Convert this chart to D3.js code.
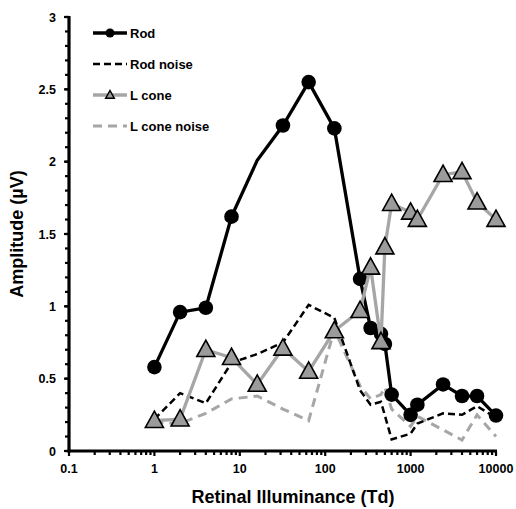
<!DOCTYPE html>
<html><head><meta charset="utf-8">
<script src="https://cdn.jsdelivr.net/npm/d3@7"></script>
<style>body{margin:0;background:#fff}svg{display:block}text{font-family:"Liberation Sans",Arial,sans-serif;font-weight:bold}</style>
</head><body>
<svg id="c" width="516" height="509"></svg>
<script>
// Data
const rodX = [1,2,4,8,16,32,64,128,256,340,450,500,600,1000,1200,2400,4000,6000,10000];
const rodY = [0.58,0.96,0.99,1.62,2.01,2.25,2.55,2.23,1.19,0.85,0.81,0.74,0.39,0.25,0.32,0.46,0.38,0.38,0.245];
const rodMarker = [1,1,1,1,0,1,1,1,1,1,1,1,1,1,1,1,1,1,1];
const rodNoiseX = [1,2,4,8,16,32,64,128,256,340,450,600,1000,1200,2400,4000,6000,10000];
const rodNoiseY = [0.22,0.40,0.33,0.61,0.67,0.75,1.01,0.92,0.42,0.32,0.34,0.08,0.12,0.19,0.26,0.25,0.31,0.23];
const lconeX = [1,2,4,8,16,32,64,128,256,340,450,500,600,1000,1200,2400,4000,6000,10000];
const lconeY = [0.21,0.22,0.70,0.645,0.46,0.71,0.55,0.83,0.97,1.27,0.755,1.41,1.71,1.65,1.60,1.91,1.93,1.72,1.60];
const lconeNoiseX = [1,2,4,8,16,32,64,128,256,340,450,500,600,1000,1200,4000,6000,10000];
const lconeNoiseY = [0.20,0.19,0.26,0.36,0.38,0.29,0.21,0.84,0.45,0.36,0.39,0.44,0.29,0.17,0.24,0.076,0.25,0.10];
const xTicks = [0.1,1,10,100,1000,10000];
const xTickLabels = ["0.1","1","10","100","1000","10000"];
const yTicks = [0,0.5,1,1.5,2,2.5,3];
const yTickLabels = ["0","0.5","1","1.5","2","2.5","3"];
const legendLabels = ["Rod","Rod noise","L cone","L cone noise"];

const svg = d3.select("#c");
const x = d3.scaleLog().domain([0.1,10000]).range([69,496]);
const y = d3.scaleLinear().domain([0,3]).range([451,17]);
const GRAY = "#a6a6a6", TRI = "#9b9b9b";

// minor ticks
const xMinor = [];
for (let d = 0.1; d < 10000; d *= 10) for (let k = 2; k <= 9; k++) xMinor.push(d*k);
const yMinor = d3.range(0, 3.0001, 0.1).map(v => +v.toFixed(1));

const xAxis = svg.append("g").attr("transform","translate(0,451)");
xAxis.selectAll("line.mi").data(xMinor).join("line").attr("x1",d=>x(d)).attr("x2",d=>x(d)).attr("y1",0).attr("y2",4).attr("stroke","#000").attr("stroke-width",2.2);
xAxis.selectAll("line.ma").data(xTicks).join("line").attr("x1",d=>x(d)).attr("x2",d=>x(d)).attr("y1",0).attr("y2",5).attr("stroke","#000").attr("stroke-width",2.2);
xAxis.append("line").attr("x1",x(0.1)-1.5).attr("x2",x(10000)+1).attr("y1",0).attr("y2",0).attr("stroke","#000").attr("stroke-width",3.2);
xAxis.selectAll("text").data(xTicks).join("text").attr("x",d=>x(d)).attr("y",22).attr("text-anchor","middle").attr("font-size",12.5).text((d,i)=>xTickLabels[i]);

const yAxis = svg.append("g").attr("transform","translate(69,0)");
yAxis.selectAll("line.mi").data(yMinor).join("line").attr("x1",-4).attr("x2",0).attr("y1",d=>y(d)).attr("y2",d=>y(d)).attr("stroke","#000").attr("stroke-width",2.2);
yAxis.selectAll("line.ma").data(yTicks).join("line").attr("x1",-5).attr("x2",0).attr("y1",d=>y(d)).attr("y2",d=>y(d)).attr("stroke","#000").attr("stroke-width",2.2);
yAxis.append("line").attr("x1",0).attr("x2",0).attr("y1",y(3)-1).attr("y2",y(0)+1.5).attr("stroke","#000").attr("stroke-width",3.2);
yAxis.selectAll("text").data(yTicks).join("text").attr("x",-13).attr("y",d=>y(d)+4.5).attr("text-anchor","end").attr("font-size",12.5).text((d,i)=>yTickLabels[i]);

svg.append("text").attr("x",293).attr("y",503).attr("text-anchor","middle").attr("font-size",18).text("Retinal Illuminance (Td)");
svg.append("text").attr("transform","translate(23,234) rotate(-90)").attr("text-anchor","middle").attr("font-size",18).text("Amplitude (µV)");

const line = (xs, ys) => d3.line()(xs.map((v,i)=>[x(v), y(ys[i])]));

// noise lines
svg.append("path").attr("d",line(lconeNoiseX,lconeNoiseY)).attr("fill","none").attr("stroke",GRAY).attr("stroke-width",3).attr("stroke-dasharray","9,6");
svg.append("path").attr("d",line(rodNoiseX,rodNoiseY)).attr("fill","none").attr("stroke","#000").attr("stroke-width",2.5).attr("stroke-dasharray","7,4");

// rod
svg.append("path").attr("d",line(rodX,rodY)).attr("fill","none").attr("stroke","#000").attr("stroke-width",3.3);
svg.selectAll("circle.rod").data(rodX.map((v,i)=>({v,w:rodY[i],m:rodMarker[i]})).filter(d=>d.m)).join("circle")
  .attr("cx",d=>x(d.v)).attr("cy",d=>y(d.w)).attr("r",7.3).attr("fill","#000");

// L cone
const tri = (s) => `M0,${-s}L${s*0.95},${s*0.72}L${-s*0.95},${s*0.72}Z`;
svg.append("path").attr("d",line(lconeX,lconeY)).attr("fill","none").attr("stroke",GRAY).attr("stroke-width",3.3);
svg.selectAll("path.tri").data(lconeX.map((v,i)=>({v,w:lconeY[i]}))).join("path")
  .attr("transform",d=>`translate(${x(d.v)},${y(d.w)})`).attr("d",tri(9.5)).attr("fill",TRI).attr("stroke","#000").attr("stroke-width",1.6);

// legend
const lg = svg.append("g");
const rows = [33,64,95,126];
lg.append("line").attr("x1",93).attr("x2",127).attr("y1",rows[0]).attr("y2",rows[0]).attr("stroke","#000").attr("stroke-width",3.3);
lg.append("circle").attr("cx",110).attr("cy",rows[0]).attr("r",4.5).attr("fill","#000");
lg.append("line").attr("x1",93).attr("x2",127).attr("y1",rows[1]).attr("y2",rows[1]).attr("stroke","#000").attr("stroke-width",2.5).attr("stroke-dasharray","7,4");
lg.append("line").attr("x1",93).attr("x2",127).attr("y1",rows[2]).attr("y2",rows[2]).attr("stroke",GRAY).attr("stroke-width",3.3);
lg.append("path").attr("transform",`translate(110,${rows[2]})`).attr("d",tri(4.5)).attr("fill",TRI).attr("stroke","#000").attr("stroke-width",1.5);
lg.append("line").attr("x1",93).attr("x2",127).attr("y1",rows[3]).attr("y2",rows[3]).attr("stroke",GRAY).attr("stroke-width",3).attr("stroke-dasharray","9,6");
lg.selectAll("text").data(legendLabels).join("text").attr("x",130).attr("y",(d,i)=>rows[i]+4.5).attr("font-size",13).text(d=>d);
</script>
</body></html>
